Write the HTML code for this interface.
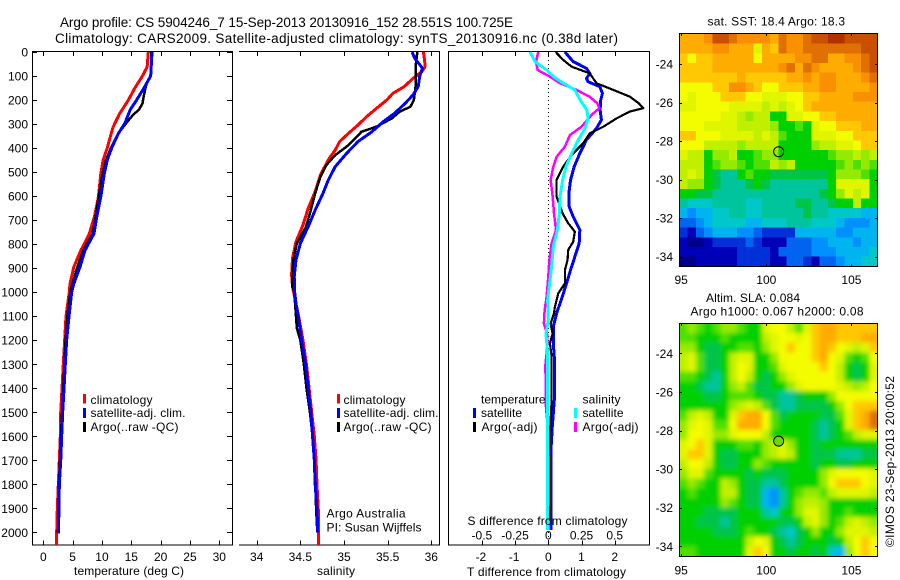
<!DOCTYPE html>
<html lang="en">
<head>
<meta charset="utf-8">
<title>Argo profile</title>
<style>
html,body{margin:0;padding:0;background:#fff;width:900px;height:580px;overflow:hidden}
svg{display:block}
text{font-family:"Liberation Sans",sans-serif;font-size:12px;fill:#000}
.big{font-size:13.5px}
</style>
</head>
<body>
<svg id="chart" xmlns="http://www.w3.org/2000/svg" width="900" height="580" viewBox="0 0 900 580">
  <defs>
    <clipPath id="clipMap1"><rect x="679.5" y="34" width="198" height="232.5"/></clipPath>
    <clipPath id="clipMap2"><rect x="679.5" y="323.5" width="198" height="232.5"/></clipPath>
    <filter id="smooth" filterUnits="userSpaceOnUse" x="650" y="295" width="250" height="285">
      <feGaussianBlur stdDeviation="2.5"/>
    </filter>
  </defs>

  <text class="big" x="60" y="27" textLength="453" lengthAdjust="spacing">Argo profile: CS 5904246_7 15-Sep-2013 20130916_152 28.551S 100.725E</text>
  <text class="big" x="55" y="43" textLength="563" lengthAdjust="spacing">Climatology: CARS2009. Satellite-adjusted climatology: synTS_20130916.nc (0.38d later)</text>

  <g id="gridlayer"></g>
  <g id="serieslayer"></g>
  <g id="map1cells" clip-path="url(#clipMap1)"></g>
  <g clip-path="url(#clipMap2)"><g id="map2cells" filter="url(#smooth)"></g></g>
  <g id="ticklayer"></g>

  <text x="74" y="575" textLength="110" lengthAdjust="spacing">temperature (deg C)</text>
  <text x="317" y="575" textLength="38" lengthAdjust="spacing">salinity</text>
  <text x="467" y="576" textLength="159" lengthAdjust="spacing">T difference from climatology</text>
  <text x="467.5" y="525" textLength="160" lengthAdjust="spacing">S difference from climatology</text>

  <g>
    <rect x="83" y="394" width="3" height="9.5" fill="#ff0000"/>
    <rect x="83" y="408" width="3" height="10" fill="#0000ff"/>
    <rect x="83" y="422" width="3" height="10" fill="#000"/>
    <text x="90.5" y="404" textLength="62" lengthAdjust="spacing">climatology</text>
    <text x="90.5" y="417" textLength="95" lengthAdjust="spacing">satellite-adj. clim.</text>
    <text x="90.5" y="431" textLength="88" lengthAdjust="spacing">Argo(..raw -QC)</text>
  </g>
  <g>
    <rect x="337" y="394" width="3" height="9.5" fill="#ff0000"/>
    <rect x="337" y="408" width="3" height="10" fill="#0000ff"/>
    <rect x="337" y="422" width="3" height="10" fill="#000"/>
    <text x="343.5" y="404" textLength="62" lengthAdjust="spacing">climatology</text>
    <text x="343.5" y="417" textLength="95" lengthAdjust="spacing">satellite-adj. clim.</text>
    <text x="343.5" y="431" textLength="88" lengthAdjust="spacing">Argo(..raw -QC)</text>
  </g>
  <g>
    <text x="481" y="403.5" textLength="64.5" lengthAdjust="spacing">temperature</text>
    <rect x="473" y="408" width="3" height="10" fill="#0000ff"/>
    <rect x="473" y="422" width="3" height="10" fill="#000"/>
    <text x="481" y="417" textLength="41" lengthAdjust="spacing">satellite</text>
    <text x="481.5" y="431" textLength="56" lengthAdjust="spacing">Argo(-adj)</text>
    <text x="582.5" y="403.5" textLength="38" lengthAdjust="spacing">salinity</text>
    <rect x="574" y="408" width="3" height="10" fill="#00ffff"/>
    <rect x="574" y="422" width="3" height="10" fill="#ff00ff"/>
    <text x="582.5" y="417" textLength="41" lengthAdjust="spacing">satellite</text>
    <text x="582.5" y="431" textLength="56" lengthAdjust="spacing">Argo(-adj)</text>
  </g>
  <text x="326.5" y="517.5" textLength="79" lengthAdjust="spacing">Argo Australia</text>
  <text x="326.5" y="531.5" textLength="95" lengthAdjust="spacing">PI: Susan Wijffels</text>

  <text x="707.5" y="25.5" textLength="137.5" lengthAdjust="spacing">sat. SST: 18.4 Argo: 18.3</text>
  <text x="706" y="302" textLength="94" lengthAdjust="spacing">Altim. SLA: 0.084</text>
  <text x="690.5" y="315.5" textLength="173" lengthAdjust="spacing">Argo h1000: 0.067 h2000: 0.08</text>
  <text transform="translate(894,547) rotate(-90)" textLength="171" lengthAdjust="spacing">©IMOS 23-Sep-2013 20:00:52</text>
</svg>

<script>
// ---- profile axis values ----
const depthTicks = [0,100,200,300,400,500,600,700,800,900,1000,1100,1200,1300,1400,1500,1600,1700,1800,1900,2000];
const tempTicks = [0,5,10,15,20,25,30];
const salTicks = [34,34.5,35,35.5,36];
const tdiffTicks = [-2,-1,0,1,2];
const sdiffTicks = [-0.5,-0.25,0,0.25,0.5];
const lonTicks = [95,100,105];
const latTicks = [-24,-26,-28,-30,-32,-34];

// ---- temperature panel ----
const tempClimDepth = [0,62,100,150,200,257,312,368,400,450,506,603,687,756,826,895,965,1000,1100,1200,1300,1400,1500,1600,1700,1800,1900,2000,2053];
const tempClim = [17.9,17.7,16.9,15.6,14.5,13.0,11.9,11.25,10.9,10.2,9.8,9.4,8.7,7.85,6.4,5.2,4.55,4.43,3.87,3.64,3.41,3.19,2.97,2.9,2.73,2.56,2.39,2.28,2.28];
const tempSatDepth = [0,100,150,200,241,297,339,400,450,506,603,687,756,826,895,965,1000,1100,1200,1300,1400,1500,1600,1700,1800,1900,2005];
const tempSat = [18.53,18.3,17.16,15.9,14.8,13.9,12.8,11.65,10.9,10.4,9.8,9.1,8.64,7.1,6.25,5.2,4.84,4.38,3.98,3.75,3.53,3.3,3.13,2.97,2.73,2.68,2.56];
const tempArgoDepth = [0,100,130,186,215,240,262,297,339,400,450,506,603,687,756,826,895,965,1000,1100,1200,1300,1400,1500,1600,1700,1800,1900,2000];
const tempArgo = [18.4,18.35,17.6,17.1,16.9,16.3,15.3,14.1,12.8,11.5,10.7,10.1,9.45,8.9,8.4,6.8,5.8,4.95,4.6,4.1,3.8,3.6,3.4,3.2,3.0,2.85,2.65,2.55,2.5];

// ---- salinity panel ----
const salClimDepth = [0,26,61,82,110,144,172,200,235,269,304,339,373,408,443,477,512,581,651,720,790,859,928,977,1100,1200,1300,1400,1500,1600,1700,1800,1900,2000,2053];
const salClim = [35.91,35.92,35.93,35.89,35.79,35.69,35.56,35.49,35.37,35.26,35.16,35.05,34.95,34.90,34.83,34.78,34.73,34.67,34.59,34.53,34.45,34.41,34.40,34.41,34.48,34.53,34.57,34.60,34.63,34.66,34.68,34.69,34.705,34.71,34.705];
const salSatDepth = [0,26,68,96,144,179,214,255,290,332,373,422,477,533,588,658,727,797,866,935,1000,1047,1100,1200,1300,1400,1500,1600,1700,1800,1900,2000];
const salSat = [35.78,35.81,35.90,35.87,35.85,35.79,35.70,35.58,35.45,35.32,35.16,35.03,34.90,34.82,34.76,34.67,34.59,34.50,34.45,34.43,34.435,34.45,34.476,34.515,34.56,34.59,34.62,34.64,34.66,34.67,34.69,34.70];
const salArgoDepth = [0,61,144,172,200,228,248,276,311,332,359,394,429,470,519,588,658,727,797,866,935,977,1000,1100,1150,1200,1300,1400,1500,1600,1700,1800,1900,2000];
const salArgo = [35.84,35.82,35.82,35.81,35.80,35.76,35.64,35.55,35.37,35.2,35.13,35.03,34.9,34.8,34.73,34.67,34.62,34.565,34.46,34.42,34.41,34.41,34.43,34.45,34.46,34.50,34.54,34.57,34.61,34.64,34.66,34.675,34.68,34.695];

// ---- difference panel ----
const dtSatDepth = [0,40,68,89,110,124,144,172,200,241,283,318,366,422,477,533,588,644,686,741,797,852,908,963,1019,1088,1143,1213,1269,1449,1560,1657,1990];
const dtSat = [0.5,0.75,1.15,1.25,1.15,1.2,1.55,1.63,1.58,1.56,1.6,1.45,1.15,0.95,0.78,0.67,0.62,0.63,0.75,0.95,0.93,0.8,0.67,0.55,0.42,0.25,0.15,0.15,0.18,0.18,0.12,0.08,0.08];
const dtArgoDepth = [0,33,61,89,130,158,186,214,234,248,276,311,339,380,429,477,533,602,672,713,748,790,824,866,908,963,1005,1060,1088,1130,1172,1213,1269,1449,1560,1657,1950];
const dtArgo = [0.22,0.45,0.7,1.25,1.45,1.96,2.46,2.73,2.86,2.46,2.06,1.66,1.25,1.05,0.7,0.45,0.25,0.25,0.43,0.6,0.8,0.75,0.6,0.58,0.5,0.5,0.3,0.2,0.17,0.07,0.13,0.05,0.1,0.1,0.06,0.04,0.05];
const dsSatDepth = [0,40,75,103,130,158,200,241,276,318,366,422,477,533,602,672,741,810,893,974,1032,1115,1171,1240,1449,1657,1990];
const dsSat = [-0.138,-0.10,-0.0125,0.04,0.113,0.2,0.24,0.29,0.30,0.276,0.226,0.176,0.133,0.108,0.088,0.083,0.068,0.038,0.025,0.0075,-0.005,0,-0.0175,-0.0075,-0.005,-0.005,-0.0075];
const dsArgoDepth = [0,40,75,103,130,158,186,214,234,262,311,346,394,436,477,533,602,672,741,797,866,935,1019,1074,1130,1172,1213,1310,1394,1477,1588,1890];
const dsArgo = [-0.075,-0.093,-0.08,0.0125,0.088,0.213,0.31,0.37,0.384,0.326,0.25,0.163,0.125,0.063,0.038,0.0175,0.033,0.043,0.058,0.025,0.0075,0,-0.0125,-0.0275,-0.033,-0.01,-0.005,-0.023,-0.0175,-0.0175,0,0.005];

// ---- map colour levels (rows north to south, columns west to east) ----
const sstLevels = [
[16,16,16,17,19,19,18,17,17,17,17,16,18,17,17,18,19,19,20,20,19,19,19,19],
[16,16,16,16,17,17,16,16,16,13,16,15,18,17,17,18,18,18,18,18,18,18,19,19],
[15,14,15,15,16,16,16,16,16,14,16,16,16,16,17,17,18,18,16,16,17,17,18,19],
[15,15,15,15,16,16,16,16,16,16,16,16,17,18,16,18,17,16,16,16,16,17,18,19],
[15,15,15,15,15,15,15,16,15,15,15,15,15,16,16,17,16,17,17,16,16,16,17,18],
[14,14,14,14,15,15,17,17,16,15,14,14,15,15,15,16,16,17,17,16,16,16,16,17],
[14,13,14,14,14,15,15,15,14,14,13,13,13,14,14,15,15,16,16,16,16,17,17,17],
[13,13,14,14,14,14,13,13,13,13,12,13,12,13,14,15,16,16,16,16,16,16,16,16],
[14,14,14,14,14,13,13,12,11,12,12,9,9,13,13,14,14,15,15,16,16,16,16,16],
[14,14,14,13,13,13,13,12,12,12,12,11,9,9,10,9,13,14,14,15,15,15,16,16],
[15,15,14,14,14,13,13,13,13,12,13,12,10,9,9,9,13,13,13,14,14,15,15,15],
[14,14,14,12,12,12,12,11,12,12,12,12,9,9,9,9,11,12,12,13,13,14,15,15],
[13,12,12,9,11,11,12,9,9,10,11,11,9,9,9,9,9,9,10,11,11,12,11,12],
[12,12,12,9,10,11,11,10,9,10,10,12,11,12,9,9,9,9,9,10,11,10,11,10],
[12,13,12,9,8,7,7,9,10,9,9,8,8,8,8,8,8,8,9,11,11,11,10,9],
[12,11,11,9,8,7,7,7,8,9,8,7,7,7,7,7,7,7,9,13,13,13,13,9],
[9,9,8,8,7,7,7,7,7,7,7,7,7,7,7,7,7,8,9,11,13,12,13,9],
[7,6,6,6,7,7,7,7,6,6,7,7,7,7,8,8,7,7,8,9,9,12,9,9],
[5,4,5,5,6,6,7,7,6,6,7,7,7,7,7,8,7,7,6,6,6,6,5,5],
[3,3,4,5,6,6,6,6,5,5,6,6,6,7,7,7,6,6,6,5,4,4,4,5],
[2,1,3,4,5,5,5,4,4,3,2,2,2,2,5,5,5,5,5,4,4,5,5,5],
[1,0,0,1,2,2,2,2,3,2,1,1,1,3,3,3,4,4,5,5,5,4,5,5],
[1,1,1,1,1,1,1,2,2,2,2,1,3,3,3,3,4,4,4,5,5,5,5,6],
[0,0,1,1,1,1,1,2,2,2,2,1,1,3,3,2,1,3,3,4,5,5,6,6]
];
const slaLevels = [
[10,11,10,9,10,11,11,10,9,9,13,14,14,12,10,13,15,16,16,15,15,15,15,15],
[10,10,9,9,9,10,9,9,9,9,12,13,14,14,13,14,15,16,16,15,15,15,16,16],
[11,11,9,8,8,9,9,10,10,9,11,13,14,15,14,14,15,16,15,14,13,12,13,15],
[12,13,10,8,8,9,12,13,13,9,9,11,14,14,14,14,15,16,14,13,10,9,10,14],
[12,13,10,8,8,9,12,14,13,9,9,10,13,14,14,14,14,15,14,12,9,8,9,13],
[10,10,9,8,7,9,12,14,12,9,8,9,11,13,14,14,14,14,14,12,9,8,9,13],
[9,9,8,7,7,9,11,12,10,8,8,9,9,11,13,14,14,14,14,13,12,11,12,14],
[9,9,9,8,8,9,10,10,10,9,8,8,7,7,8,9,9,9,11,14,14,14,14,14],
[9,9,9,9,9,9,11,12,13,12,10,8,7,7,8,8,8,8,9,11,14,15,15,15],
[10,12,13,12,9,9,13,15,16,16,14,10,8,9,9,9,9,8,8,10,13,15,16,18],
[11,13,14,13,10,10,14,16,16,16,14,10,9,9,9,9,8,7,8,9,13,15,16,18],
[11,14,14,13,11,11,13,14,14,14,12,9,9,9,9,9,8,7,8,9,10,12,13,13],
[13,14,15,13,9,9,9,10,10,9,11,12,13,11,9,9,8,9,9,9,9,9,9,9],
[13,15,15,13,9,8,8,9,9,9,11,12,13,12,9,9,8,8,8,7,7,7,8,8],
[12,14,14,12,9,8,8,9,9,11,10,9,9,9,9,9,8,9,9,8,8,9,9,9],
[11,13,13,10,9,9,9,9,8,9,8,8,8,9,9,9,9,11,13,14,14,14,14,13],
[10,11,10,9,9,12,11,9,8,8,7,7,8,9,9,9,9,11,14,15,15,15,14,13],
[9,10,9,9,9,12,12,9,8,8,5,4,7,9,10,11,11,10,12,13,13,13,13,12],
[9,9,9,9,9,11,10,9,8,8,5,4,7,9,11,12,12,11,9,9,9,9,9,9],
[9,9,9,8,8,8,8,9,9,9,7,6,9,9,11,13,13,11,9,9,10,9,9,9],
[9,9,8,8,8,7,8,9,9,9,9,9,8,8,9,12,13,11,9,10,12,13,12,11],
[9,9,9,9,8,8,8,9,10,9,9,8,7,6,8,9,11,9,9,11,13,13,13,12],
[9,9,9,9,9,9,9,9,12,14,13,9,8,7,8,9,9,9,8,9,12,14,15,14],
[10,10,9,9,9,9,9,9,13,15,14,9,9,8,9,9,8,9,6,5,11,14,15,14]
];

// ---- axis functions ----
const yDepth = d => 52 + 0.2402 * d;
const xTemp = t => 43.3 + 5.867 * t;
const xSal = s => 256.7 + 87.3 * (s - 34);
const xDT = t => 548.3 + 33.2 * t;
const xDS = s => 548.3 + 132.8 * s;
const xLon = lon => 766.3 + 17.03 * (lon - 100);
const yLat1 = lat => 64 + 19.27 * (-24 - lat);
const yLat2 = lat => 353.3 + 19.3 * (-24 - lat);
const LON_W = 94.9, LON_E = 106.53;
const LAT_N = -22.44, LAT_S = -34.5;
const ARGO_LON = 100.725, ARGO_LAT = -28.551;

const NS = 'http://www.w3.org/2000/svg';
const gridLayer = document.getElementById('gridlayer');
const tickLayer = document.getElementById('ticklayer');
const seriesLayer = document.getElementById('serieslayer');

function hline(parent, x1, x2, y, name) {
  const el = document.createElementNS(NS, 'line');
  el.setAttribute('x1', x1); el.setAttribute('x2', x2);
  el.setAttribute('y1', y); el.setAttribute('y2', y);
  el.setAttribute('stroke', '#000');
  el.setAttribute('stroke-width', 1);
  el.setAttribute('shape-rendering', 'crispEdges');
  
  
  parent.appendChild(el);
  return el;
}
function vline(parent, x, y1, y2, name) {
  const el = document.createElementNS(NS, 'line');
  el.setAttribute('x1', x); el.setAttribute('x2', x);
  el.setAttribute('y1', y1); el.setAttribute('y2', y2);
  el.setAttribute('stroke', '#000');
  el.setAttribute('stroke-width', 1);
  el.setAttribute('shape-rendering', 'crispEdges');
  
  
  parent.appendChild(el);
  return el;
}
function tickText(str, x, y, anchor, name) {
  const el = document.createElementNS(NS, 'text');
  el.setAttribute('x', x);
  el.setAttribute('y', y);
  el.setAttribute('text-anchor', anchor);
  
  
  el.textContent = str;
  tickLayer.appendChild(el);
}
function drawSeries(depths, values, xScale, color, width, name) {
  let d = '';
  for (let i = 0; i < values.length; i++) {
    d += (i ? 'L' : 'M') + xScale(values[i]).toFixed(2) + ' ' + yDepth(depths[i]).toFixed(2);
  }
  const el = document.createElementNS(NS, 'path');
  el.setAttribute('d', d);
  el.setAttribute('fill', 'none');
  el.setAttribute('stroke', color);
  el.setAttribute('stroke-width', width);
  el.setAttribute('stroke-linejoin', 'round');
  el.setAttribute('shape-rendering', 'crispEdges');
  
  
  seriesLayer.appendChild(el);
}
function drawMap(levels, group, yLat, name, extend) {
  const rows = levels.length, cols = levels[0].length;
  const dLon = (LON_E - LON_W) / cols, dLat = (LAT_N - LAT_S) / rows;
  for (let r = 0; r < rows; r++) {
    for (let c = 0; c < cols; c++) {
      let x0 = xLon(LON_W + c * dLon), x1 = xLon(LON_W + (c + 1) * dLon);
      let y0 = yLat(LAT_N - r * dLat), y1 = yLat(LAT_N - (r + 1) * dLat);
      if (extend) {
        if (c === 0) x0 -= 15;
        if (c === cols - 1) x1 += 15;
        if (r === 0) y0 -= 15;
        if (r === rows - 1) y1 += 15;
      }
      const el = document.createElementNS(NS, 'rect');
      el.setAttribute('x', x0.toFixed(2));
      el.setAttribute('y', y0.toFixed(2));
      el.setAttribute('width', (x1 - x0 + 0.6).toFixed(2));
      el.setAttribute('height', (y1 - y0 + 0.6).toFixed(2));
      el.setAttribute('fill', levelColor(levels[r][c]));
      el.setAttribute('shape-rendering', 'crispEdges');
      
      
      group.appendChild(el);
    }
  }
}
const palette = ['#000088','#0000b8','#0030d8','#0064f0','#0090ff','#00b4f0','#00c8c8','#00c49c','#00c448','#00d000','#50e000','#94ea00','#c0f000','#e0f600','#f4fc00','#ffc800','#ffac00','#f89000','#e07000','#c85000','#b03000'];
function levelColor(v) {
  const i = Math.max(0, Math.min(palette.length - 1, Math.round(v)));
  return palette[i];
}

// ---- spines ----
hline(gridLayer, 32, 233, 51.5, 'temperature-top-spine');
hline(gridLayer, 32, 233, 545, 'temperature-bottom-spine');
vline(gridLayer, 32.5, 51, 545.5, 'temperature-left-spine');
vline(gridLayer, 232.5, 51, 545.5, 'temperature-right-spine');
hline(gridLayer, 239, 440, 51.5, 'salinity-top-spine');
hline(gridLayer, 239, 440, 545, 'salinity-bottom-spine');
vline(gridLayer, 439.5, 51, 545.5, 'salinity-right-spine');
hline(gridLayer, 448, 650, 51.5, 'difference-top-spine');
hline(gridLayer, 448, 650, 545, 'difference-bottom-spine');
vline(gridLayer, 448.5, 51, 545.5, 'difference-left-spine');
vline(gridLayer, 649.5, 51, 545.5, 'difference-right-spine');

// ---- depth ticks ----
depthTicks.forEach(d => {
  const y = yDepth(d);
  hline(gridLayer, 32.5, 37, Math.round(y) + 0.5, 'depth-tick-left');
  hline(gridLayer, 227, 232.5, Math.round(y) + 0.5, 'depth-tick-right');
  tickText(String(d), 28, y + 4.5, 'end', 'depth-tick-label');
});
tempTicks.forEach(t => {
  const x = Math.round(xTemp(t)) + 0.5;
  vline(gridLayer, x, 51.5, 56, 'temperature-tick-top');
  vline(gridLayer, x, 540.5, 545, 'temperature-tick-bottom');
  tickText(String(t), xTemp(t), 561, 'middle', 'temperature-tick-label');
});
salTicks.forEach(s => {
  const x = Math.round(xSal(s)) + 0.5;
  vline(gridLayer, x, 51.5, 56, 'salinity-tick-top');
  vline(gridLayer, x, 540.5, 545, 'salinity-tick-bottom');
  tickText(String(s), xSal(s), 561, 'middle', 'salinity-tick-label');
});
tdiffTicks.forEach(t => {
  const x = Math.round(xDT(t)) + 0.5;
  vline(gridLayer, x, 51.5, 56, 'tdiff-tick-top');
  vline(gridLayer, x, 540.5, 545, 'tdiff-tick-bottom');
  tickText(String(t), xDT(t) - (t < 0 ? 1 : 0), 561, 'middle', 'tdiff-tick-label');
});
sdiffTicks.forEach(s => {
  tickText(String(s), xDS(s), 539.5, 'middle', 'sdiff-tick-label');
});

// zero reference of the difference panel
const zeroLine = document.createElementNS(NS, 'line');
zeroLine.setAttribute('x1', Math.round(xDT(0)) + 0.5);
zeroLine.setAttribute('x2', Math.round(xDT(0)) + 0.5);
zeroLine.setAttribute('y1', 52);
zeroLine.setAttribute('y2', 545);
zeroLine.setAttribute('stroke', '#000');
zeroLine.setAttribute('stroke-width', 1);
zeroLine.setAttribute('stroke-dasharray', '1 3');
zeroLine.setAttribute('shape-rendering', 'crispEdges');


gridLayer.appendChild(zeroLine);

// ---- series ----
drawSeries(tempClimDepth, tempClim, xTemp, '#ff0000', 3, 'temperature-climatology-line');
drawSeries(tempArgoDepth, tempArgo, xTemp, '#000000', 2.5, 'temperature-argo-line');
drawSeries(tempSatDepth, tempSat, xTemp, '#0000ff', 3, 'temperature-satellite-line');
drawSeries(salClimDepth, salClim, xSal, '#ff0000', 3, 'salinity-climatology-line');
drawSeries(salArgoDepth, salArgo, xSal, '#000000', 2.5, 'salinity-argo-line');
drawSeries(salSatDepth, salSat, xSal, '#0000ff', 3, 'salinity-satellite-line');
drawSeries(dtSatDepth, dtSat, xDT, '#0000ff', 3, 'tdiff-satellite-line');
drawSeries(dtArgoDepth, dtArgo, xDT, '#000000', 2.2, 'tdiff-argo-line');
drawSeries(dsArgoDepth, dsArgo, xDS, '#ff00ff', 2.5, 'sdiff-argo-line');
drawSeries(dsSatDepth, dsSat, xDS, '#00ffff', 3, 'sdiff-satellite-line');

// ---- maps ----
drawMap(sstLevels, document.getElementById('map1cells'), yLat1, 'sst-cell', false);
drawMap(slaLevels, document.getElementById('map2cells'), yLat2, 'sla-cell', true);

function mapFrame(top, bottom, yLat, prefix, labelY) {
  hline(tickLayer, 679, 878, top, prefix + '-top-spine');
  hline(tickLayer, 679, 878, bottom, prefix + '-bottom-spine');
  vline(tickLayer, 679.5, top, bottom, prefix + '-left-spine');
  vline(tickLayer, 877.5, top, bottom, prefix + '-right-spine');
  lonTicks.forEach(lon => {
    const x = Math.round(xLon(lon)) + 0.5;
    vline(tickLayer, x, top, top + 2.5, prefix + '-lon-tick-top');
    vline(tickLayer, x, bottom - 2.5, bottom, prefix + '-lon-tick-bottom');
    tickText(String(lon), xLon(lon), labelY, 'middle', prefix + '-lon-label');
  });
  latTicks.forEach(lat => {
    const y = Math.round(yLat(lat)) + 0.5;
    hline(tickLayer, 679.5, 682, y, prefix + '-lat-tick-left');
    hline(tickLayer, 875, 877.5, y, prefix + '-lat-tick-right');
    tickText(String(lat), 673, yLat(lat) + 4.5, 'end', prefix + '-lat-label');
  });
}
mapFrame(33.5, 266.5, yLat1, 'sst-map', 284);
mapFrame(323.5, 556.5, yLat2, 'sla-map', 574.5);

const marker1 = document.createElementNS(NS, 'circle');
marker1.setAttribute('cx', xLon(ARGO_LON));
marker1.setAttribute('cy', yLat1(ARGO_LAT));
marker1.setAttribute('r', 5);
marker1.setAttribute('fill', 'none');
marker1.setAttribute('stroke', '#000');


tickLayer.appendChild(marker1);

const marker2 = document.createElementNS(NS, 'circle');
marker2.setAttribute('cx', xLon(ARGO_LON));
marker2.setAttribute('cy', yLat2(ARGO_LAT));
marker2.setAttribute('r', 5);
marker2.setAttribute('fill', '#70d800');
marker2.setAttribute('stroke', '#000');


tickLayer.appendChild(marker2);
</script>
</body>
</html>
